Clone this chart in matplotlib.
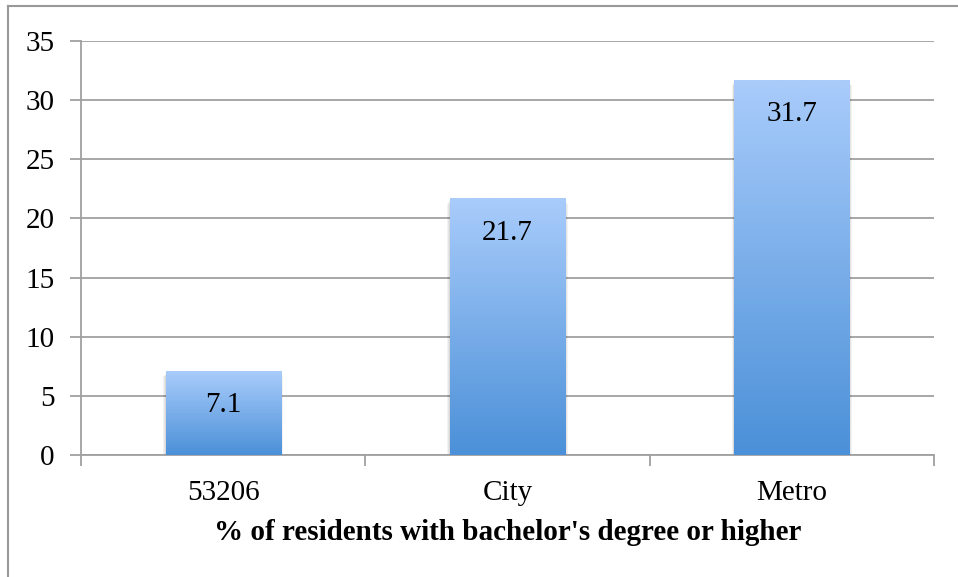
import numpy as np
import matplotlib.pyplot as plt
from matplotlib.lines import Line2D
from matplotlib.patches import Rectangle

categories = ['53206', 'City', 'Metro']
values = [7.1, 21.7, 31.7]
y_ticks = [0, 5, 10, 15, 20, 25, 30, 35]
x_label = "% of residents with bachelor's degree or higher"

plt.rcParams['font.family'] = ['Liberation Serif', 'DejaVu Serif']

W, H = 958, 577
fig = plt.figure(figsize=(W / 100, H / 100), dpi=100)

# outer chart border (top + left visible)
fig.add_artist(Line2D([8 / W, 1], [1 - 6 / H, 1 - 6 / H], color='#999999', lw=1.5))
fig.add_artist(Line2D([8 / W, 8 / W], [0, 1 - 6 / H], color='#999999', lw=1.5))

ax = fig.add_axes([81 / W, 1 - 455 / H, (934 - 81) / W, (455 - 41) / H])
ax.set_xlim(-0.5, len(categories) - 0.5)
ax.set_ylim(0, 35)
ax.set_yticks(y_ticks)
ax.set_yticklabels([str(t) for t in y_ticks], fontsize=21)
ax.yaxis.grid(True, color='#a0a0a0', lw=1.3)
ax.set_axisbelow(True)
for s in ['top', 'right']:
    ax.spines[s].set_visible(False)
for s in ['left', 'bottom']:
    ax.spines[s].set_color('#a0a0a0')
    ax.spines[s].set_linewidth(1.3)
ax.tick_params(axis='y', length=8, color='#a0a0a0', width=1.3, pad=11)

# category ticks on boundaries
ax.set_xticks(np.arange(-0.5, len(categories), 1.0))
ax.set_xticklabels([])
ax.set_xticks(range(len(categories)), minor=True)
ax.set_xticklabels(categories, minor=True, fontsize=21)
ax.tick_params(axis='x', which='major', length=8, color='#a0a0a0', width=1.3)
ax.tick_params(axis='x', which='minor', length=0, pad=18)
ax.set_xlabel(x_label, fontsize=21, fontweight='bold', labelpad=9)

# gradient bars
grad = np.linspace(0, 1, 256).reshape(-1, 1)
top = np.array([0xa9, 0xcc, 0xfb]) / 255
bot = np.array([0x4b, 0x90, 0xd8]) / 255
img = (bot[None, None, :] * (1 - grad[:, :, None]) + top[None, None, :] * grad[:, :, None])

bw = 0.405
for i, v in enumerate(values):
    for k, a in enumerate([0.05, 0.05, 0.05]):
        d = 0.003 * (k + 1)
        shadow = Rectangle((i - bw / 2 - d, -0.15 * (k + 1)), bw + 2 * d, v,
                           facecolor='#000000', alpha=a, lw=0, zorder=2)
        ax.add_patch(shadow)
    rect = Rectangle((i - bw / 2, 0), bw, v, facecolor='none', lw=0, zorder=3)
    ax.add_patch(rect)
    im = ax.imshow(img, extent=[i - bw / 2, i + bw / 2, 0, v], origin='lower',
                   aspect='auto', zorder=3)
    im.set_clip_path(rect)
    ax.text(i, v - 2.9, f'{v}', ha='center', va='center', fontsize=21, zorder=4)

ax.set_xlim(-0.5, len(categories) - 0.5)
ax.set_ylim(0, 35)

fig.savefig('out.png', dpi=100)
